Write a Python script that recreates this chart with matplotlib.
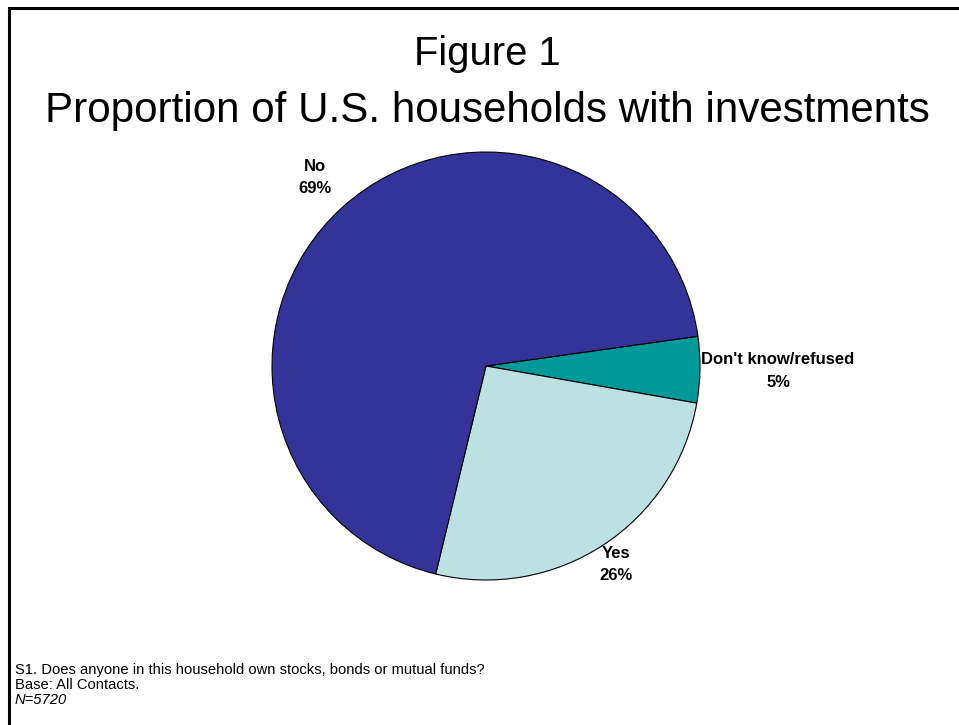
import numpy as np
import matplotlib.pyplot as plt

plt.rcParams['font.family'] = ['Liberation Sans', 'DejaVu Sans']

# survey answers, percent of households
answers = ["Don't know/refused", 'Yes', 'No']
shares = [5, 26, 69]
colors = ['#009999', '#bde1e3', '#333399']
label_dist = [1.365, 1.11, 1.19]

W, H = 959, 725
fig = plt.figure(figsize=(W / 100, H / 100), dpi=100)
ax = fig.add_axes([0, 0, 1, 1])

cx, cy, r = 486, H - 366, 214
start = 8
wedges, _ = ax.pie(shares, colors=colors, startangle=start, counterclock=False,
                   center=(cx, cy), radius=r, frame=True,
                   wedgeprops=dict(edgecolor='black', linewidth=0.8))
ax.set_xlim(0, W)
ax.set_ylim(0, H)
ax.axis('off')

# value labels outside each wedge
ang = start
for name, val, d in zip(answers, shares, label_dist):
    mid = np.deg2rad(ang - val * 3.6 / 2)
    ang -= val * 3.6
    x = cx + r * d * np.cos(mid)
    y = cy + r * d * np.sin(mid)
    ax.text(x, y, f'{name}\n{val}%', ha='center', va='center', fontsize=12,
            fontweight='bold', linespacing=1.6)

ax.text(487, H - 65, 'Figure 1', ha='center', va='baseline', fontsize=28.8)
ax.text(487.5, H - 122, 'Proportion of U.S. households with investments',
        ha='center', va='baseline', fontsize=30.3)

ax.text(15, H - 674, 'S1. Does anyone in this household own stocks, bonds or mutual funds?',
        ha='left', va='baseline', fontsize=10.6)
ax.text(15, H - 689, 'Base: All Contacts.', ha='left', va='baseline', fontsize=10.6)
ax.text(15, H - 704, 'N=5720', ha='left', va='baseline', fontsize=10.6, style='italic')

# frame lines along top and left edges
ax.plot([9, 9, W], [0, H - 8, H - 8], color='black', linewidth=2.2,
        solid_joinstyle='miter')

fig.savefig('out.png', dpi=100)
